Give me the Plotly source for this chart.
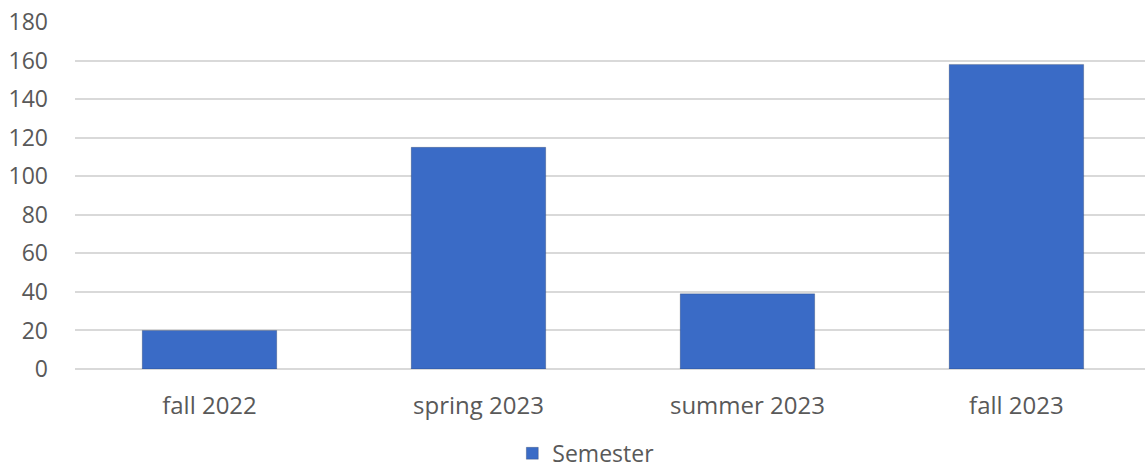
import plotly.graph_objects as go

categories = ["fall 2022", "spring 2023", "summer 2023", "fall 2023"]
values = [20, 115, 39, 158]
series_name = "Semester"
y_ticks = [0, 20, 40, 60, 80, 100, 120, 140, 160, 180]

fig = go.Figure()
fig.add_trace(go.Bar(
    x=categories, y=values, name=series_name,
    width=0.5,
    marker=dict(color="#3A6BC6", line=dict(color="rgba(0,0,0,0.18)", width=1)),
    showlegend=True,
))

font_family = "Open Sans, Noto Sans, sans-serif"
fig.update_layout(
    width=1145, height=476,
    margin=dict(l=75, r=0, t=21.7, b=106.7, autoexpand=False),
    paper_bgcolor="white", plot_bgcolor="white",
    font=dict(family=font_family, size=22, color="#595959"),
    showlegend=True,
    legend=dict(orientation="h", x=0.4774, xanchor="center", y=-0.305, yanchor="bottom",
                font=dict(size=23, color="#595959"), itemwidth=30, bgcolor="rgba(0,0,0,0)"),
    xaxis=dict(type="category", range=[-0.5, 3.478], showgrid=False, zeroline=False,
               showline=False, ticks="", ticklabelstandoff=20, automargin=False,
               tickfont=dict(size=24, color="#595959")),
    yaxis=dict(range=[0, 180], tickvals=y_ticks, showgrid=True, gridcolor="#D9D9D9",
               gridwidth=2, zeroline=True, zerolinecolor="#D9D9D9", zerolinewidth=2,
               showline=False, ticks="", ticklabelstandoff=26, automargin=False,
               tickfont=dict(size=23, color="#595959")),
)

fig.write_html("out.html", config={"displayModeBar": False},
               post_script="document.body.style.margin='0';")
